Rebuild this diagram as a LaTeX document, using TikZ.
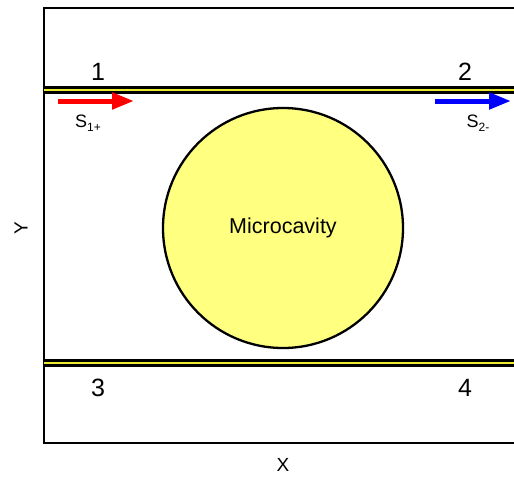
\documentclass[tikz,border=0pt]{standalone}
\usepackage{fontspec}
\setmainfont{Liberation Sans}
\usepackage{xcolor}
\usetikzlibrary{arrows.meta,positioning}
\definecolor{cavityyellow}{RGB}{255,255,128}
\definecolor{guideyellow}{RGB}{235,235,50}
\newcommand{\portsub}[2]{#1\raisebox{-0.45ex}{\fontsize{12}{12}\selectfont #2}}

\begin{document}
\begin{tikzpicture}[x=1pt, y=-1pt,
    port/.style={font=\fontsize{25}{25}\selectfont},
    axislabel/.style={font=\fontsize{19}{19}\selectfont},
    guide/.style={line width=3pt, draw=black, double=guideyellow, double distance=2pt},
    wave/.style={line width=5pt, -{Triangle[length=22pt,width=16pt]}}]
  \useasboundingbox (0,0) rectangle (514,477);

  % frame, open on the right
  \draw[line width=1.8pt] (514,8) -- (44,8) -- (44,443) -- (514,443);

  % the two waveguides
  \coordinate (topL) at (44,89.5);
  \coordinate (topR) at (514,89.5);
  \coordinate (botL) at (44,362.5);
  \coordinate (botR) at (514,362.5);
  \draw[guide] (topL) -- (topR);
  \draw[guide] (botL) -- (botR);

  % resonator
  \node[circle, draw, line width=2.3pt, fill=cavityyellow, minimum size=240pt, inner sep=0pt, font=\fontsize{21.5}{21.5}\selectfont] (cavity) at (283,228) {Microcavity};

  % ports
  \node[port] (p1) at (98,72) {1};
  \node[port] (p2) at (465,72) {2};
  \node[port] (p3) at (98,388) {3};
  \node[port] (p4) at (465,388) {4};

  % incoming and outgoing waves
  \coordinate (inA) at (58,101);
  \coordinate (inB) at (134,101);
  \coordinate (outA) at (435,101);
  \coordinate (outB) at (511,101);
  \draw[wave, red] (inA) -- (inB);
  \draw[wave, blue] (outA) -- (outB);
  \node[font=\fontsize{18}{18}\selectfont] (s1) at (88,123) {\portsub{S}{1+}};
  \node[font=\fontsize{18}{18}\selectfont] (s2) at (478,123) {\portsub{S}{2-}};

  % axes
  \node[axislabel] (xlab) at (283,465) {X};
  \node[axislabel, rotate=90] (ylab) at (21,228) {Y};
\end{tikzpicture}
\end{document}
